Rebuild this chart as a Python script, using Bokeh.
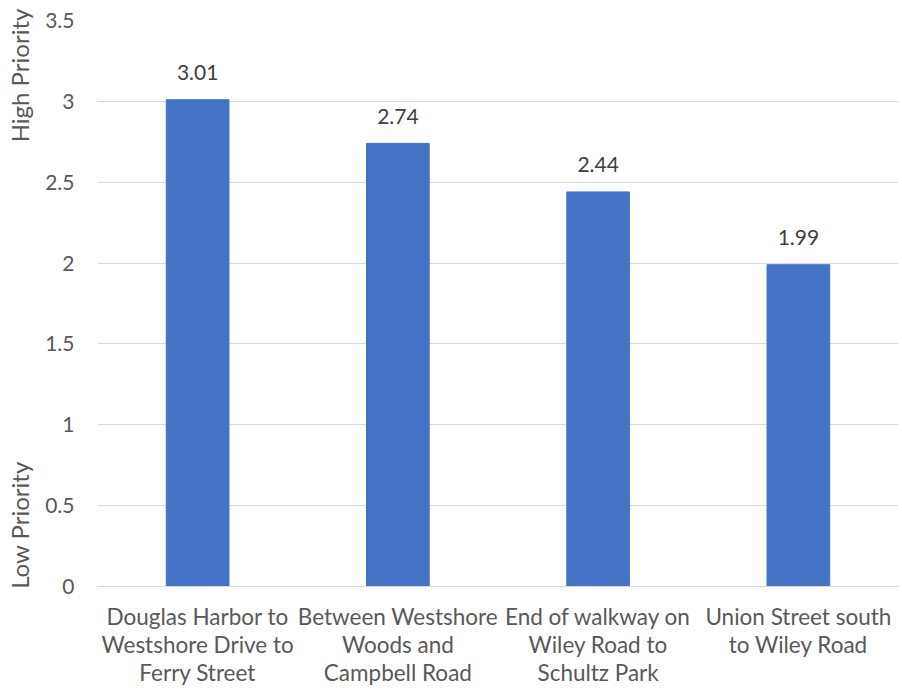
from bokeh.plotting import figure
from bokeh.models import Range1d, FactorRange, LinearAxis, FixedTicker, ColumnDataSource
from bokeh.embed import file_html
from bokeh.resources import INLINE

categories = [
    "Douglas Harbor to\nWestshore Drive to\nFerry Street",
    "Between Westshore\nWoods and\nCampbell Road",
    "End of walkway on\nWiley Road to\nSchultz Park",
    "Union Street south\nto Wiley Road",
]
values = [3.01, 2.74, 2.44, 1.99]
value_labels = ["3.01", "2.74", "2.44", "1.99"]
y_ticks = [0, 0.5, 1, 1.5, 2, 2.5, 3, 3.5]
priority_ticks = [0.38, 3.16]
priority_labels = ["Low Priority", "High Priority"]

FONT = "Lato"

src = ColumnDataSource(dict(cat=categories, val=values, lab=value_labels))

p = figure(width=900, height=690, output_backend="svg", toolbar_location=None,
           x_range=FactorRange(*categories, range_padding=0),
           y_range=Range1d(0, 3.5),
           min_border_left=97, min_border_top=20, min_border_right=2, min_border_bottom=104)
p.outline_line_color = None
p.background_fill_color = "white"

p.vbar(x="cat", top="val", width=0.313, color="#4472C4", source=src)
p.text(x="cat", y="val", text="lab", source=src, text_align="center", text_baseline="middle",
       y_offset=-27, text_font_size="21px", text_color="#404040", text_font={"value": FONT})

p.xgrid.grid_line_color = None
p.ygrid.grid_line_color = "#D9D9D9"
p.ygrid.grid_line_width = 1.2
p.yaxis.ticker = FixedTicker(ticks=y_ticks)

for ax in [p.xaxis[0], p.yaxis[0]]:
    ax.major_tick_line_color = None
    ax.minor_tick_line_color = None
    ax.major_tick_out = 0
    ax.major_tick_in = 0
    ax.major_label_text_color = "#595959"
    ax.major_label_text_font = FONT

p.yaxis.major_label_text_font_size = "21px"
p.yaxis.axis_line_color = None
p.yaxis.major_label_standoff = 23
p.xaxis.major_label_text_font_size = "22.5px"
p.xaxis.axis_line_color = "#D9D9D9"
p.xaxis.major_label_standoff = 16
p.xaxis.major_label_text_line_height = 1.04

pa = LinearAxis(ticker=FixedTicker(ticks=priority_ticks),
                major_label_overrides=dict(zip(priority_ticks, priority_labels)),
                major_label_orientation="vertical")
pa.axis_line_color = None
pa.major_tick_line_color = None
pa.minor_tick_line_color = None
pa.major_tick_out = 0
pa.major_tick_in = 0
pa.major_label_standoff = 8
pa.major_label_text_color = "#595959"
pa.major_label_text_font = FONT
pa.major_label_text_font_size = "24px"
p.add_layout(pa, "left")

open("out.html", "w").write(file_html(p, INLINE))
